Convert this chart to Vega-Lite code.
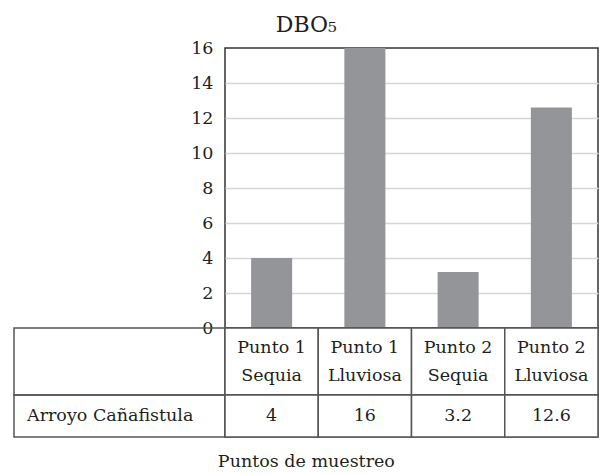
{
  "$schema": "https://vega.github.io/schema/vega-lite/v6.json",
  "background": "white",
  "padding": {"left": 13, "right": 1, "top": 14, "bottom": 0},
  "datasets": {
    "dbo": [
      {"punto": "Punto 1 Sequia", "encabezado": ["Punto 1", "Sequia"], "valor": 4},
      {"punto": "Punto 1 Lluviosa", "encabezado": ["Punto 1", "Lluviosa"], "valor": 16},
      {"punto": "Punto 2 Sequia", "encabezado": ["Punto 2", "Sequia"], "valor": 3.2},
      {"punto": "Punto 2 Lluviosa", "encabezado": ["Punto 2", "Lluviosa"], "valor": 12.6}
    ],
    "filas": [
      {"serie": "Arroyo Cañafistula"}
    ]
  },
  "title": {
    "text": "Puntos de muestreo",
    "orient": "bottom",
    "anchor": "middle",
    "fontSize": 17.5,
    "fontWeight": "normal",
    "color": "#231f20",
    "offset": 14
  },
  "vconcat": [
    {
      "title": {
        "text": "DBO₅",
        "anchor": "middle",
        "fontSize": 22,
        "fontWeight": "normal",
        "color": "#231f20",
        "offset": 1
      },
      "columns": 2,
      "bounds": "flush",
      "spacing": 0,
      "concat": [
        {
          "width": 211,
          "height": 280,
          "data": {"name": "filas"},
          "mark": {"type": "text", "text": ""},
          "encoding": {}
        },
        {
          "width": 373,
          "height": 280,
          "data": {"name": "dbo"},
          "view": {"stroke": "#333333", "strokeWidth": 1.5},
          "mark": {"type": "bar", "color": "#939598"},
          "encoding": {
            "x": {
              "field": "punto",
              "type": "nominal",
              "sort": null,
              "axis": null,
              "scale": {"paddingInner": 0.56, "paddingOuter": 0.28}
            },
            "y": {
              "field": "valor",
              "type": "quantitative",
              "scale": {"domain": [0, 16], "nice": false},
              "axis": {
                "title": null,
                "values": [0, 2, 4, 6, 8, 10, 12, 14, 16],
                "tickSize": 0,
                "domain": false,
                "labelPadding": 12,
                "labelFontSize": 17.5,
                "labelColor": "#231f20",
                "gridWidth": 1.5,
                "gridColor": {
                  "condition": {"test": "datum.value === 0 || datum.value === 16", "value": "transparent"},
                  "value": "#d6d6d6"
                }
              }
            }
          }
        },
        {
          "width": 211,
          "height": 67,
          "data": {"name": "filas"},
          "view": {"stroke": "#555555", "strokeWidth": 1.5},
          "mark": {"type": "text", "text": ""},
          "encoding": {}
        },
        {
          "width": 373,
          "height": 67,
          "data": {"name": "dbo"},
          "view": {"stroke": "#555555", "strokeWidth": 1.5},
          "layer": [
            {
              "mark": {"type": "rect", "fill": "white", "stroke": "#555555", "strokeWidth": 1.5},
              "encoding": {
                "x": {"field": "punto", "type": "nominal", "sort": null, "axis": null, "scale": {"padding": 0}}
              }
            },
            {
              "mark": {"type": "text", "fontSize": 17.5, "lineHeight": 28, "dy": -14, "color": "#231f20"},
              "encoding": {
                "x": {"field": "punto", "type": "nominal", "sort": null, "axis": null},
                "text": {"field": "encabezado"}
              }
            }
          ]
        },
        {
          "width": 211,
          "height": 42,
          "data": {"name": "filas"},
          "view": {"stroke": "#555555", "strokeWidth": 1.5},
          "mark": {"type": "text", "align": "left", "dx": 13, "fontSize": 17.5, "color": "#231f20"},
          "encoding": {
            "x": {"field": "serie", "type": "nominal", "axis": null, "scale": {"type": "point", "padding": 0, "align": 0}},
            "text": {"field": "serie"}
          }
        },
        {
          "width": 373,
          "height": 42,
          "data": {"name": "dbo"},
          "view": {"stroke": "#555555", "strokeWidth": 1.5},
          "layer": [
            {
              "mark": {"type": "rect", "fill": "white", "stroke": "#555555", "strokeWidth": 1.5},
              "encoding": {
                "x": {"field": "punto", "type": "nominal", "sort": null, "axis": null, "scale": {"padding": 0}}
              }
            },
            {
              "mark": {"type": "text", "fontSize": 17.5, "color": "#231f20"},
              "encoding": {
                "x": {"field": "punto", "type": "nominal", "sort": null, "axis": null},
                "text": {"field": "valor", "type": "quantitative", "format": ""}
              }
            }
          ]
        }
      ]
    }
  ],
  "config": {
    "font": "DejaVu Serif",
    "concat": {"spacing": 0}
  }
}
